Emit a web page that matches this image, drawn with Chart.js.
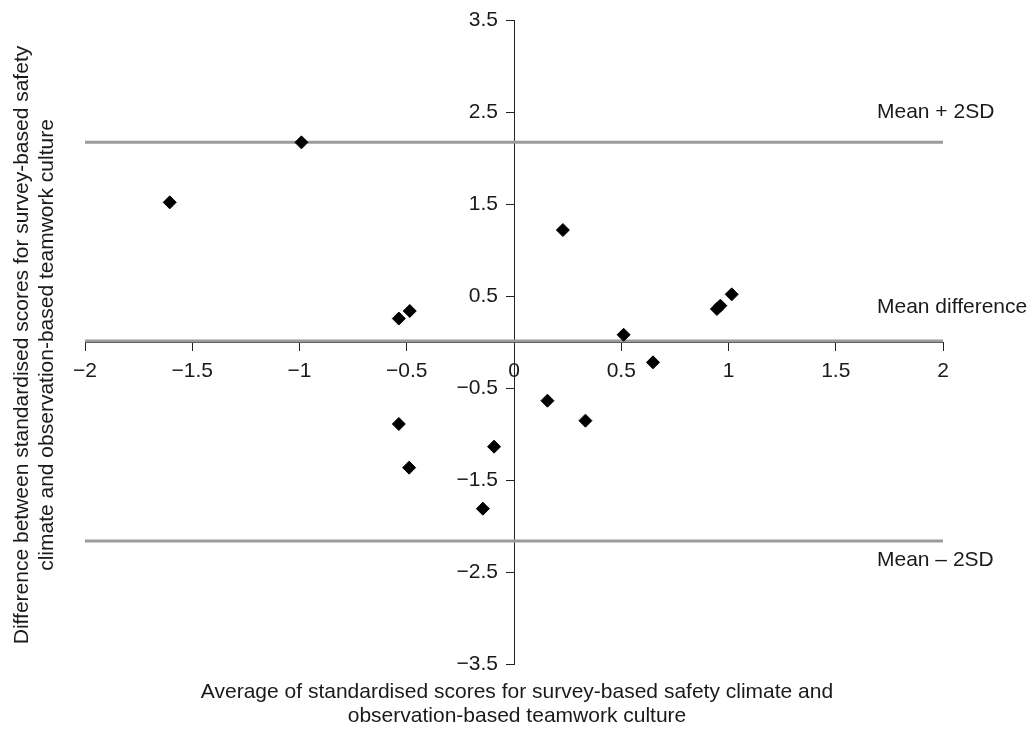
<!DOCTYPE html>
<html>
<head>
<meta charset="utf-8">
<script src="https://cdn.jsdelivr.net/npm/chart.js@4.4.1/dist/chart.umd.min.js"></script>
<style>
  html, body { margin: 0; padding: 0; background: #fff; }
  #wrap { width: 1035px; height: 729px; position: relative; }
</style>
</head>
<body>
<div id="wrap"><canvas id="c"></canvas></div>
<script>
// ---- data ----
const avgScores = [-1.605, -0.991, -0.537, -0.486, -0.537, -0.489, -0.093, -0.145, 0.156, 0.333, 0.228, 0.511, 0.648, 0.946, 0.962, 1.015];
const diffScores = [1.518, 2.17, 0.255, 0.337, -0.891, -1.366, -1.138, -1.812, -0.638, -0.855, 1.217, 0.079, -0.221, 0.359, 0.395, 0.518];
const meanDiff = 0.011;
const upperLimit = 2.17;
const lowerLimit = -2.163;
const limitLabels = ['Mean + 2SD', 'Mean difference', 'Mean \u2013 2SD'];
const xTickValues = [-2, -1.5, -1, -0.5, 0, 0.5, 1, 1.5, 2];
const yTickValues = [-3.5, -2.5, -1.5, -0.5, 0.5, 1.5, 2.5, 3.5];
const xTitleLines = ['Average of standardised scores for survey-based safety climate and', 'observation-based teamwork culture'];
const yTitleLines = ['Difference between standardised scores for survey-based safety', 'climate and observation-based teamwork culture'];

const FONT = '"Liberation Sans", Arial, Helvetica, sans-serif';
const TXT = '#1a1a1a';

function fmt(v) {
  return v < 0 ? '\u2212' + String(Math.abs(v)) : String(v);
}

const points = avgScores.map((x, i) => ({ x: x, y: diffScores[i] }));
const xMin = xTickValues[0], xMax = xTickValues[xTickValues.length - 1];
function hline(v) { return [{ x: xMin, y: v }, { x: xMax, y: v }]; }

const textPlugin = {
  id: 'texts',
  afterDraw(chart) {
    const ctx = chart.ctx;
    const ys = chart.scales.y;
    const xs = chart.scales.x;
    ctx.save();
    ctx.fillStyle = TXT;
    ctx.font = '21px ' + FONT;
    ctx.textBaseline = 'middle';
    // y tick labels, placed left of the tick marks on the centred axis
    ctx.textAlign = 'right';
    const axX = xs.getPixelForValue(0);
    ys.ticks.forEach(t => {
      ctx.fillText(fmt(t.value), axX - 16, ys.getPixelForValue(t.value));
    });
    ctx.textAlign = 'left';
    const lx = 877;
    ctx.fillText(limitLabels[0], lx, ys.getPixelForValue(upperLimit) - 30);
    ctx.fillText(limitLabels[1], lx, ys.getPixelForValue(meanDiff) - 34);
    ctx.fillText(limitLabels[2], lx, ys.getPixelForValue(lowerLimit) + 19);
    // x title
    ctx.textAlign = 'center';
    ctx.fillText(xTitleLines[0], 517, 692);
    ctx.fillText(xTitleLines[1], 517, 716);
    // y title
    ctx.translate(0, 345);
    ctx.rotate(-Math.PI / 2);
    ctx.fillText(yTitleLines[0], 0, 22);
    ctx.fillText(yTitleLines[1], 0, 47);
    ctx.restore();
  }
};

new Chart(document.getElementById('c'), {
  type: 'scatter',
  data: {
    datasets: [
      {
        label: 'points',
        data: points,
        pointStyle: 'rectRot',
        pointRadius: 6.5,
        pointHoverRadius: 6.5,
        backgroundColor: '#000',
        borderColor: '#000',
        borderWidth: 1,
        order: 0
      },
      { type: 'line', data: hline(upperLimit), borderColor: '#9b9b9b', borderWidth: 3, pointRadius: 0, fill: false, order: 1 },
      { type: 'line', data: hline(meanDiff), borderColor: '#9b9b9b', borderWidth: 3, pointRadius: 0, fill: false, order: 1 },
      { type: 'line', data: hline(lowerLimit), borderColor: '#9b9b9b', borderWidth: 3, pointRadius: 0, fill: false, order: 1 }
    ]
  },
  options: {
    responsive: true,
    maintainAspectRatio: false,
    animation: false,
    events: [],
    layout: { padding: { left: 85, right: 92, top: 20, bottom: 65 } },
    plugins: { legend: { display: false }, tooltip: { enabled: false }, title: { display: false } },
    scales: {
      x: {
        type: 'linear',
        min: xMin,
        max: xMax,
        position: { y: 0 },
        afterBuildTicks: (s) => { s.ticks = xTickValues.map(v => ({ value: v })); },
        ticks: { callback: (v) => fmt(v), font: { size: 21, family: FONT }, color: TXT, padding: 9, maxRotation: 0, autoSkip: false },
        grid: { drawOnChartArea: false, drawTicks: true, tickLength: 8, color: '#222', tickColor: '#222' },
        border: { display: true, color: '#222', width: 1 }
      },
      y: {
        type: 'linear',
        min: yTickValues[0],
        max: yTickValues[yTickValues.length - 1],
        position: { x: 0 },
        afterBuildTicks: (s) => { s.ticks = yTickValues.map(v => ({ value: v })); },
        ticks: { display: false },
        grid: { drawOnChartArea: false, drawTicks: true, tickLength: 8, color: '#222', tickColor: '#222' },
        border: { display: true, color: '#222', width: 1 }
      }
    }
  },
  plugins: [textPlugin]
});
</script>
</body>
</html>
